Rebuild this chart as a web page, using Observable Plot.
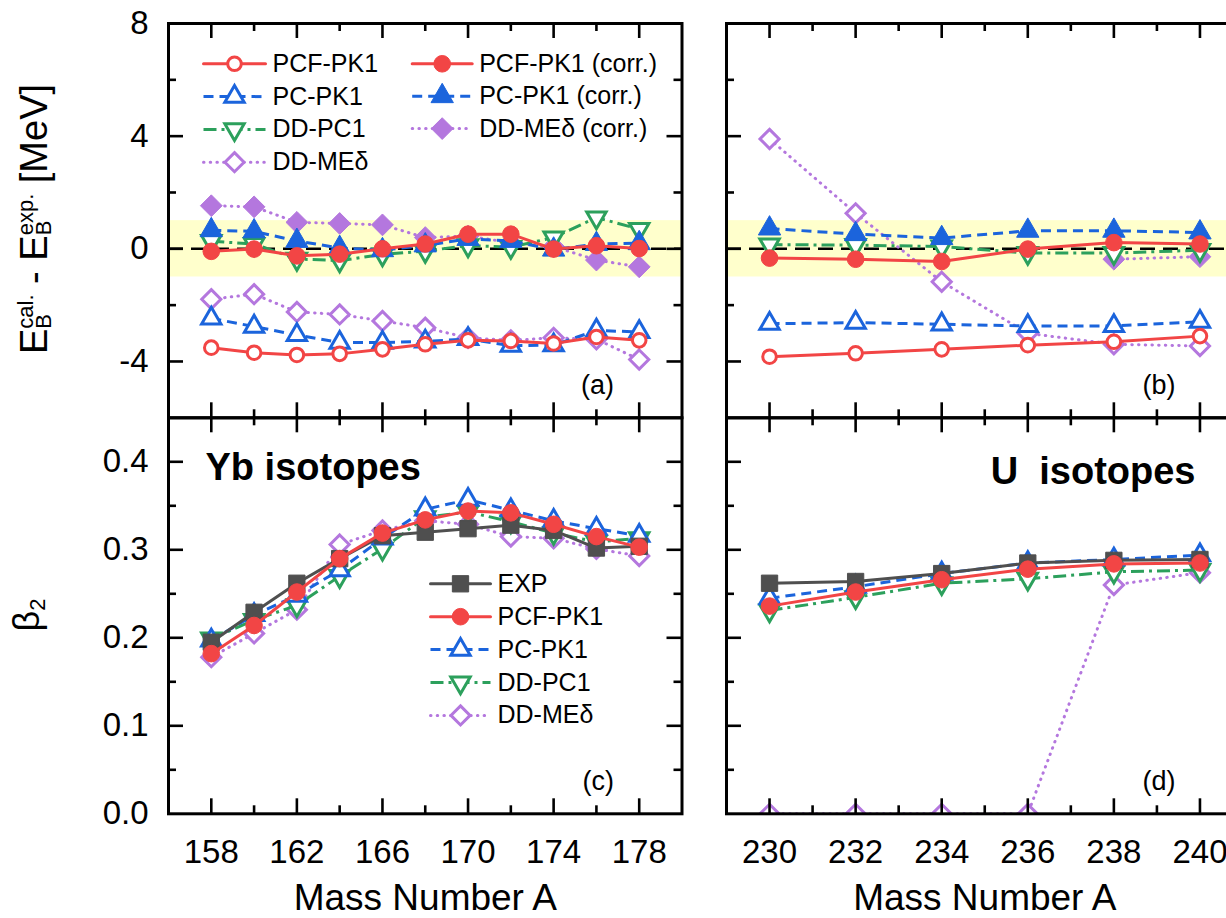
<!DOCTYPE html>
<html><head><meta charset="utf-8">
<script src="https://cdn.jsdelivr.net/npm/d3@7"></script>
<script src="https://cdn.jsdelivr.net/npm/@observablehq/plot@0.6"></script>
<style>
html,body{margin:0;padding:0;background:#fff;}
#wrap{position:relative;width:1226px;height:918px;overflow:hidden;font-family:"Liberation Sans",Arial,Helvetica,sans-serif;color:#000;}
#wrap svg{position:absolute;}
.ylab{position:absolute;white-space:nowrap;text-align:center;transform-origin:center center;transform:rotate(-90deg);}
.stack{display:inline-flex;flex-direction:column;font-size:22px;line-height:0.8;vertical-align:14px;text-align:left;}
.ylab sub{font-size:22px;vertical-align:-6px;line-height:0;}
</style></head><body><div id="wrap"></div>
<script>
// ---------- data ----------
const massYb = [158,160,162,164,166,168,170,172,174,176,178];
const massU  = [230,232,234,236,238,240];

const ybTicksMajor = [158,162,166,170,174,178];
const ybTicksMinor = [160,164,168,172,176];
const uTicksMajor  = [230,232,234,236,238,240];
const uTicksMinor  = [231,233,235,237,239];
const eTicksMajor  = [-4,0,4,8];
const eTicksMinor  = [-6,-2,2,6];
const betaTicksMajor = [0,0.1,0.2,0.3,0.4];
const betaTicksMinor = [0.05,0.15,0.25,0.35];
const bandE = [{lo:-1, hi:1}];
const zeroE = [0];

// (a) Yb: E_B(cal) - E_B(exp) [MeV]
const pcfYbE     = [-3.51,-3.69,-3.77,-3.73,-3.57,-3.39,-3.25,-3.27,-3.36,-3.13,-3.25];
const pcYbE      = [-2.47,-2.76,-3.06,-3.33,-3.33,-3.29,-3.20,-3.44,-3.42,-2.90,-2.95];
const ddpcYbE    = [0.27,0.17,-0.36,-0.42,-0.20,-0.08,0.12,0.06,0.40,1.11,0.70];
const dmeYbE     = [-1.79,-1.61,-2.24,-2.33,-2.56,-2.80,-3.16,-3.25,-3.16,-3.21,-3.93];
const pcfCorrYbE = [-0.09,-0.01,-0.25,-0.19,0.00,0.17,0.52,0.52,-0.01,0.11,0.01];
const pcCorrYbE  = [0.66,0.62,0.28,0.03,-0.05,0.12,0.35,0.28,-0.03,0.17,0.20];
const dmeCorrYbE = [1.53,1.49,0.94,0.90,0.85,0.40,0.45,0.22,0.08,-0.40,-0.64];

// (b) U: E_B(cal) - E_B(exp) [MeV]
const pcfUE     = [-3.83,-3.71,-3.57,-3.42,-3.30,-3.10];
const pcUE      = [-2.66,-2.62,-2.68,-2.74,-2.74,-2.59];
const ddpcUE    = [0.15,0.13,0.08,-0.15,-0.15,-0.05];
const dmeUE     = [3.90,1.26,-1.17,-3.00,-3.39,-3.45];
const pcfCorrUE = [-0.33,-0.37,-0.45,-0.01,0.22,0.17];
const pcCorrUE  = [0.72,0.52,0.38,0.64,0.64,0.58];
const dmeCorrUE = [null,null,null,null,-0.37,-0.28];

// (c) Yb: beta2
const expYbB  = [0.195,0.229,0.262,0.290,0.316,0.320,0.324,0.328,0.322,0.302,0.304];
const pcfYbB  = [0.182,0.214,0.252,0.290,0.319,0.334,0.344,0.342,0.329,0.315,0.303];
const pcYbB   = [0.197,0.226,0.248,0.277,0.313,0.346,0.357,0.345,0.333,0.324,0.316];
const ddpcYbB = [0.199,0.220,0.237,0.270,0.301,0.337,0.343,0.332,0.319,0.309,0.313];
const dmeYbB  = [0.178,0.205,0.232,0.306,0.322,0.333,0.329,0.315,0.313,0.301,0.293];

// (d) U: beta2
const expUB  = [0.262,0.264,0.273,0.285,0.288,0.289];
const pcfUB  = [0.236,0.252,0.266,0.278,0.284,0.285];
const pcUB   = [0.245,0.258,0.273,0.285,0.289,0.294];
const ddpcUB = [0.231,0.246,0.262,0.267,0.275,0.277];
const dmeUB  = [0,0,0,0,0.260,0.274];

// ---------- styles ----------
const RED = "#F24545", BLUE = "#1B64DC", GREEN = "#2CA05C", PURPLE = "#B477DE", GRAY = "#4F4F4F";
const FONT = '"Liberation Sans", Arial, Helvetica, sans-serif';
const LW = 3;
const stPCF   = {label:"PCF-PK1", color:RED, dash:null, cap:"round", symbol:"circle", fill:"white", r:6.8, sw:3};
const stPCFc  = {label:"PCF-PK1 (corr.)", color:RED, dash:null, cap:"round", symbol:"circle", fill:RED, r:8.3, sw:1};
const stPC    = {label:"PC-PK1", color:BLUE, dash:"10,6", cap:"butt", symbol:"triangle", fill:"white", r:7.2, sw:3};
const stPCc   = {label:"PC-PK1 (corr.)", color:BLUE, dash:"10,6", cap:"butt", symbol:"triangle", fill:BLUE, r:8.3, sw:1};
const stDDPC  = {label:"DD-PC1", color:GREEN, dash:"13,5,3,5", cap:"butt", symbol:"triangle", rotate:180, fill:"white", r:7.2, sw:3};
const stDME   = {label:"DD-MEδ", color:PURPLE, dash:"0.5,6.2", cap:"round", symbol:"diamond2", fill:"white", r:8.6, sw:3};
const stDMEc  = {label:"DD-MEδ (corr.)", color:PURPLE, dash:"0.5,6.2", cap:"round", symbol:"diamond2", fill:PURPLE, r:9.8, sw:1};
const stEXP   = {label:"EXP", color:GRAY, dash:null, cap:"round", symbol:"square", fill:GRAY, r:9.2, sw:1};

const wrap = document.getElementById("wrap");

function seriesMarks(xs, ys, st, clip) {
  const rows = xs.map((x, i) => ({x, y: ys[i]})).filter(d => d.y != null);
  return [
    Plot.line(rows, {x:"x", y:"y", stroke:st.color, strokeWidth:LW, strokeDasharray:st.dash, strokeLinecap:st.cap, clip}),
    Plot.dot(rows, {x:"x", y:"y", symbol:st.symbol, r:st.r, fill:st.fill, stroke:st.color, strokeWidth:st.sw, rotate:st.rotate || 0, clip})
  ];
}

function place(svg, left, top) {
  svg.style.position = "absolute";
  svg.style.left = left + "px";
  svg.style.top = top + "px";
  wrap.appendChild(svg);
}

function panel(o) {
  const fw = o.width - o.ml - o.mr, fh = o.height - o.mt - o.mb;
  const inside = (arr, dom) => arr.filter(v => v > dom[0] + 1e-9 && v < dom[1] - 1e-9);
  const tk = {stroke:"black", strokeWidth:2.6};
  const MAJ = 15, MIN = 8;
  const marks = [];
  if (o.band) marks.push(Plot.rect(o.band, {y1:"lo", y2:"hi", fill:"#FFFFCC"}));
  if (o.zero) marks.push(Plot.ruleY(o.zero, {y:d => d, stroke:"black", strokeWidth:2.6, strokeDasharray:"15,8", strokeLinecap:"butt"}));
  for (const s of o.series) marks.push(...seriesMarks(o.xs, s.values, s.style, o.clip));
  const xMaj = inside(o.xMajor, o.xDomain), xMin = inside(o.xMinor, o.xDomain);
  const yMaj = inside(o.yMajor, o.yDomain), yMin = inside(o.yMinor, o.yDomain);
  marks.push(
    Plot.tickX(xMaj, {x:d => d, insetTop: fh - MAJ, ...tk}),
    Plot.tickX(xMaj, {x:d => d, insetBottom: fh - MAJ, ...tk}),
    Plot.tickX(xMin, {x:d => d, insetTop: fh - MIN, ...tk}),
    Plot.tickX(xMin, {x:d => d, insetBottom: fh - MIN, ...tk}),
    Plot.tickY(yMaj, {y:d => d, insetRight: fw - MAJ, ...tk}),
    Plot.tickY(yMaj, {y:d => d, insetLeft: fw - MAJ, ...tk}),
    Plot.tickY(yMin, {y:d => d, insetRight: fw - MIN, ...tk}),
    Plot.tickY(yMin, {y:d => d, insetLeft: fw - MIN, ...tk})
  );
  if (o.xLabels) marks.push(Plot.text(o.xMajor, {x:d => d, text:d => String(d), frameAnchor:"bottom", dy:25.3, lineAnchor:"top", fontSize:33, fill:"black"}));
  if (o.yLabels) marks.push(Plot.text(o.yMajor, {y:d => d, text:o.yFormat, frameAnchor:"left", dx:-20, textAnchor:"end", lineAnchor:"middle", fontSize:33, fill:"black"}));
  if (o.extra) marks.push(...o.extra);
  marks.push(Plot.frame({stroke:"black", strokeWidth:3}));
  const svg = Plot.plot({
    width:o.width, height:o.height,
    marginTop:o.mt, marginBottom:o.mb, marginLeft:o.ml, marginRight:o.mr,
    x:{domain:o.xDomain, axis:null}, y:{domain:o.yDomain, axis:null},
    style:{fontFamily:FONT, background:"transparent", overflow:"visible", maxWidth:"none"},
    marks
  });
  place(svg, o.left, o.top);
}

function legend(styles, x0, x1, y0, step) {
  const n = styles.length;
  const marks = [];
  styles.forEach((st, i) => {
    marks.push(Plot.line([{x:0, y:i}, {x:1, y:i}], {x:"x", y:"y", stroke:st.color, strokeWidth:LW, strokeDasharray:st.dash, strokeLinecap:st.cap}));
    marks.push(Plot.dot([{x:0.5, y:i}], {x:"x", y:"y", symbol:st.symbol, r:st.r, fill:st.fill, stroke:st.color, strokeWidth:st.sw, rotate:st.rotate || 0}));
    marks.push(Plot.text([{x:1, y:i, t:st.label}], {x:"x", y:"y", text:"t", dx:7, textAnchor:"start", lineAnchor:"middle", fontSize:25, fill:"black"}));
  });
  const svg = Plot.plot({
    width:1226, height:918, margin:0,
    x:{domain:[0,1], range:[x0, x1], axis:null},
    y:{domain:[0, n - 1], range:[y0, y0 + step * (n - 1)], axis:null},
    style:{fontFamily:FONT, background:"transparent", overflow:"visible", maxWidth:"none"},
    marks
  });
  place(svg, 0, 0);
}

const eFmt = d => String(d);
const bFmt = d => d.toFixed(1);
const labelText = (t, dx, dy, anchor, size, weight) =>
  Plot.text([t], {text:d => d, frameAnchor:anchor, dx, dy, textAnchor: anchor.endsWith("right") ? "end" : "start",
                  lineAnchor:"middle", fontSize:size, fontWeight:weight || "normal", fill:"black"});

// (a)
panel({left:0, top:0, width:700, height:430, mt:23, mb:12.7, ml:168, mr:18.5,
  xDomain:[156,180], yDomain:[-6,8], xs:massYb,
  xMajor:ybTicksMajor, xMinor:ybTicksMinor, yMajor:eTicksMajor, yMinor:eTicksMinor,
  yLabels:true, yFormat:eFmt, band:bandE, zero:zeroE,
  series:[{values:dmeYbE, style:stDME}, {values:dmeCorrYbE, style:stDMEc}, {values:ddpcYbE, style:stDDPC},
          {values:pcYbE, style:stPC}, {values:pcCorrYbE, style:stPCc}, {values:pcfYbE, style:stPCF}, {values:pcfCorrYbE, style:stPCFc}],
  extra:[labelText("(a)", -68, -32.6, "bottom-right", 27)]
});
// (b)
panel({left:700, top:0, width:560, height:430, mt:23, mb:12.7, ml:26, mr:17.5,
  xDomain:[229,241], yDomain:[-6,8], xs:massU,
  xMajor:uTicksMajor, xMinor:uTicksMinor, yMajor:eTicksMajor, yMinor:eTicksMinor,
  band:bandE, zero:zeroE,
  series:[{values:dmeUE, style:stDME}, {values:dmeCorrUE, style:stDMEc}, {values:ddpcUE, style:stDDPC},
          {values:pcUE, style:stPC}, {values:pcCorrUE, style:stPCc}, {values:pcfUE, style:stPCF}, {values:pcfCorrUE, style:stPCFc}],
  extra:[labelText("(b)", -67.5, -32.6, "bottom-right", 27)]
});
// (c)
panel({left:0, top:405, width:700, height:513, mt:12.3, mb:104.7, ml:168, mr:18.5,
  xDomain:[156,180], yDomain:[0,0.45], xs:massYb,
  xMajor:ybTicksMajor, xMinor:ybTicksMinor, yMajor:betaTicksMajor, yMinor:betaTicksMinor,
  xLabels:true, yLabels:true, yFormat:bFmt,
  series:[{values:dmeYbB, style:stDME}, {values:ddpcYbB, style:stDDPC}, {values:pcYbB, style:stPC},
          {values:expYbB, style:stEXP}, {values:pcfYbB, style:stPCFc}],
  extra:[labelText("(c)", -68, -32.6, "bottom-right", 27),
         labelText("Yb isotopes", 37, 50.5, "top-left", 38, "bold"),
         Plot.text(["Mass Number A"], {text:d => d, frameAnchor:"bottom", dy:84, lineAnchor:"middle", fontSize:37, fill:"black"})]
});
// (d)
panel({left:700, top:405, width:560, height:513, mt:12.3, mb:104.7, ml:26, mr:17.5,
  xDomain:[229,241], yDomain:[0,0.45], xs:massU, clip:true,
  xMajor:uTicksMajor, xMinor:uTicksMinor, yMajor:betaTicksMajor, yMinor:betaTicksMinor,
  xLabels:true,
  series:[{values:dmeUB, style:stDME}, {values:ddpcUB, style:stDDPC}, {values:pcUB, style:stPC},
          {values:expUB, style:stEXP}, {values:pcfUB, style:stPCFc}],
  extra:[labelText("(d)", -67.5, -32.6, "bottom-right", 27),
         labelText("U\u00A0 isotopes", -47.5, 54.5, "top-right", 38, "bold"),
         Plot.text(["Mass Number A"], {text:d => d, frameAnchor:"bottom", dy:84, lineAnchor:"middle", fontSize:37, fill:"black"})]
});

// legends
legend([stPCF, stPC, stDDPC, stDME], 203, 265, 63.3, 32.8);
legend([stPCFc, stPCc, stDMEc], 411.7, 471.7, 63.3, 32.4);
legend([stEXP, {...stPCFc, label:"PCF-PK1"}, stPC, stDDPC, stDME], 430, 490, 583.3, 32.9);

// rotated y-axis titles (HTML for stacked sub/superscripts)
function ylab(html, cx, cy, w, h, size) {
  const d = document.createElement("div");
  d.className = "ylab";
  d.innerHTML = html;
  Object.assign(d.style, {left:(cx - w / 2) + "px", top:(cy - h / 2) + "px", width:w + "px", height:h + "px",
                          lineHeight:h + "px", fontSize:size + "px"});
  wrap.appendChild(d);
}
ylab('E<span class="stack"><span>cal.</span><span>B</span></span> - E<span class="stack"><span>exp.</span><span>B</span></span> [MeV]', 33.7, 219, 420, 44, 38);
ylab('β<sub>2</sub>', 27, 615, 120, 44, 36);
</script></body></html>
